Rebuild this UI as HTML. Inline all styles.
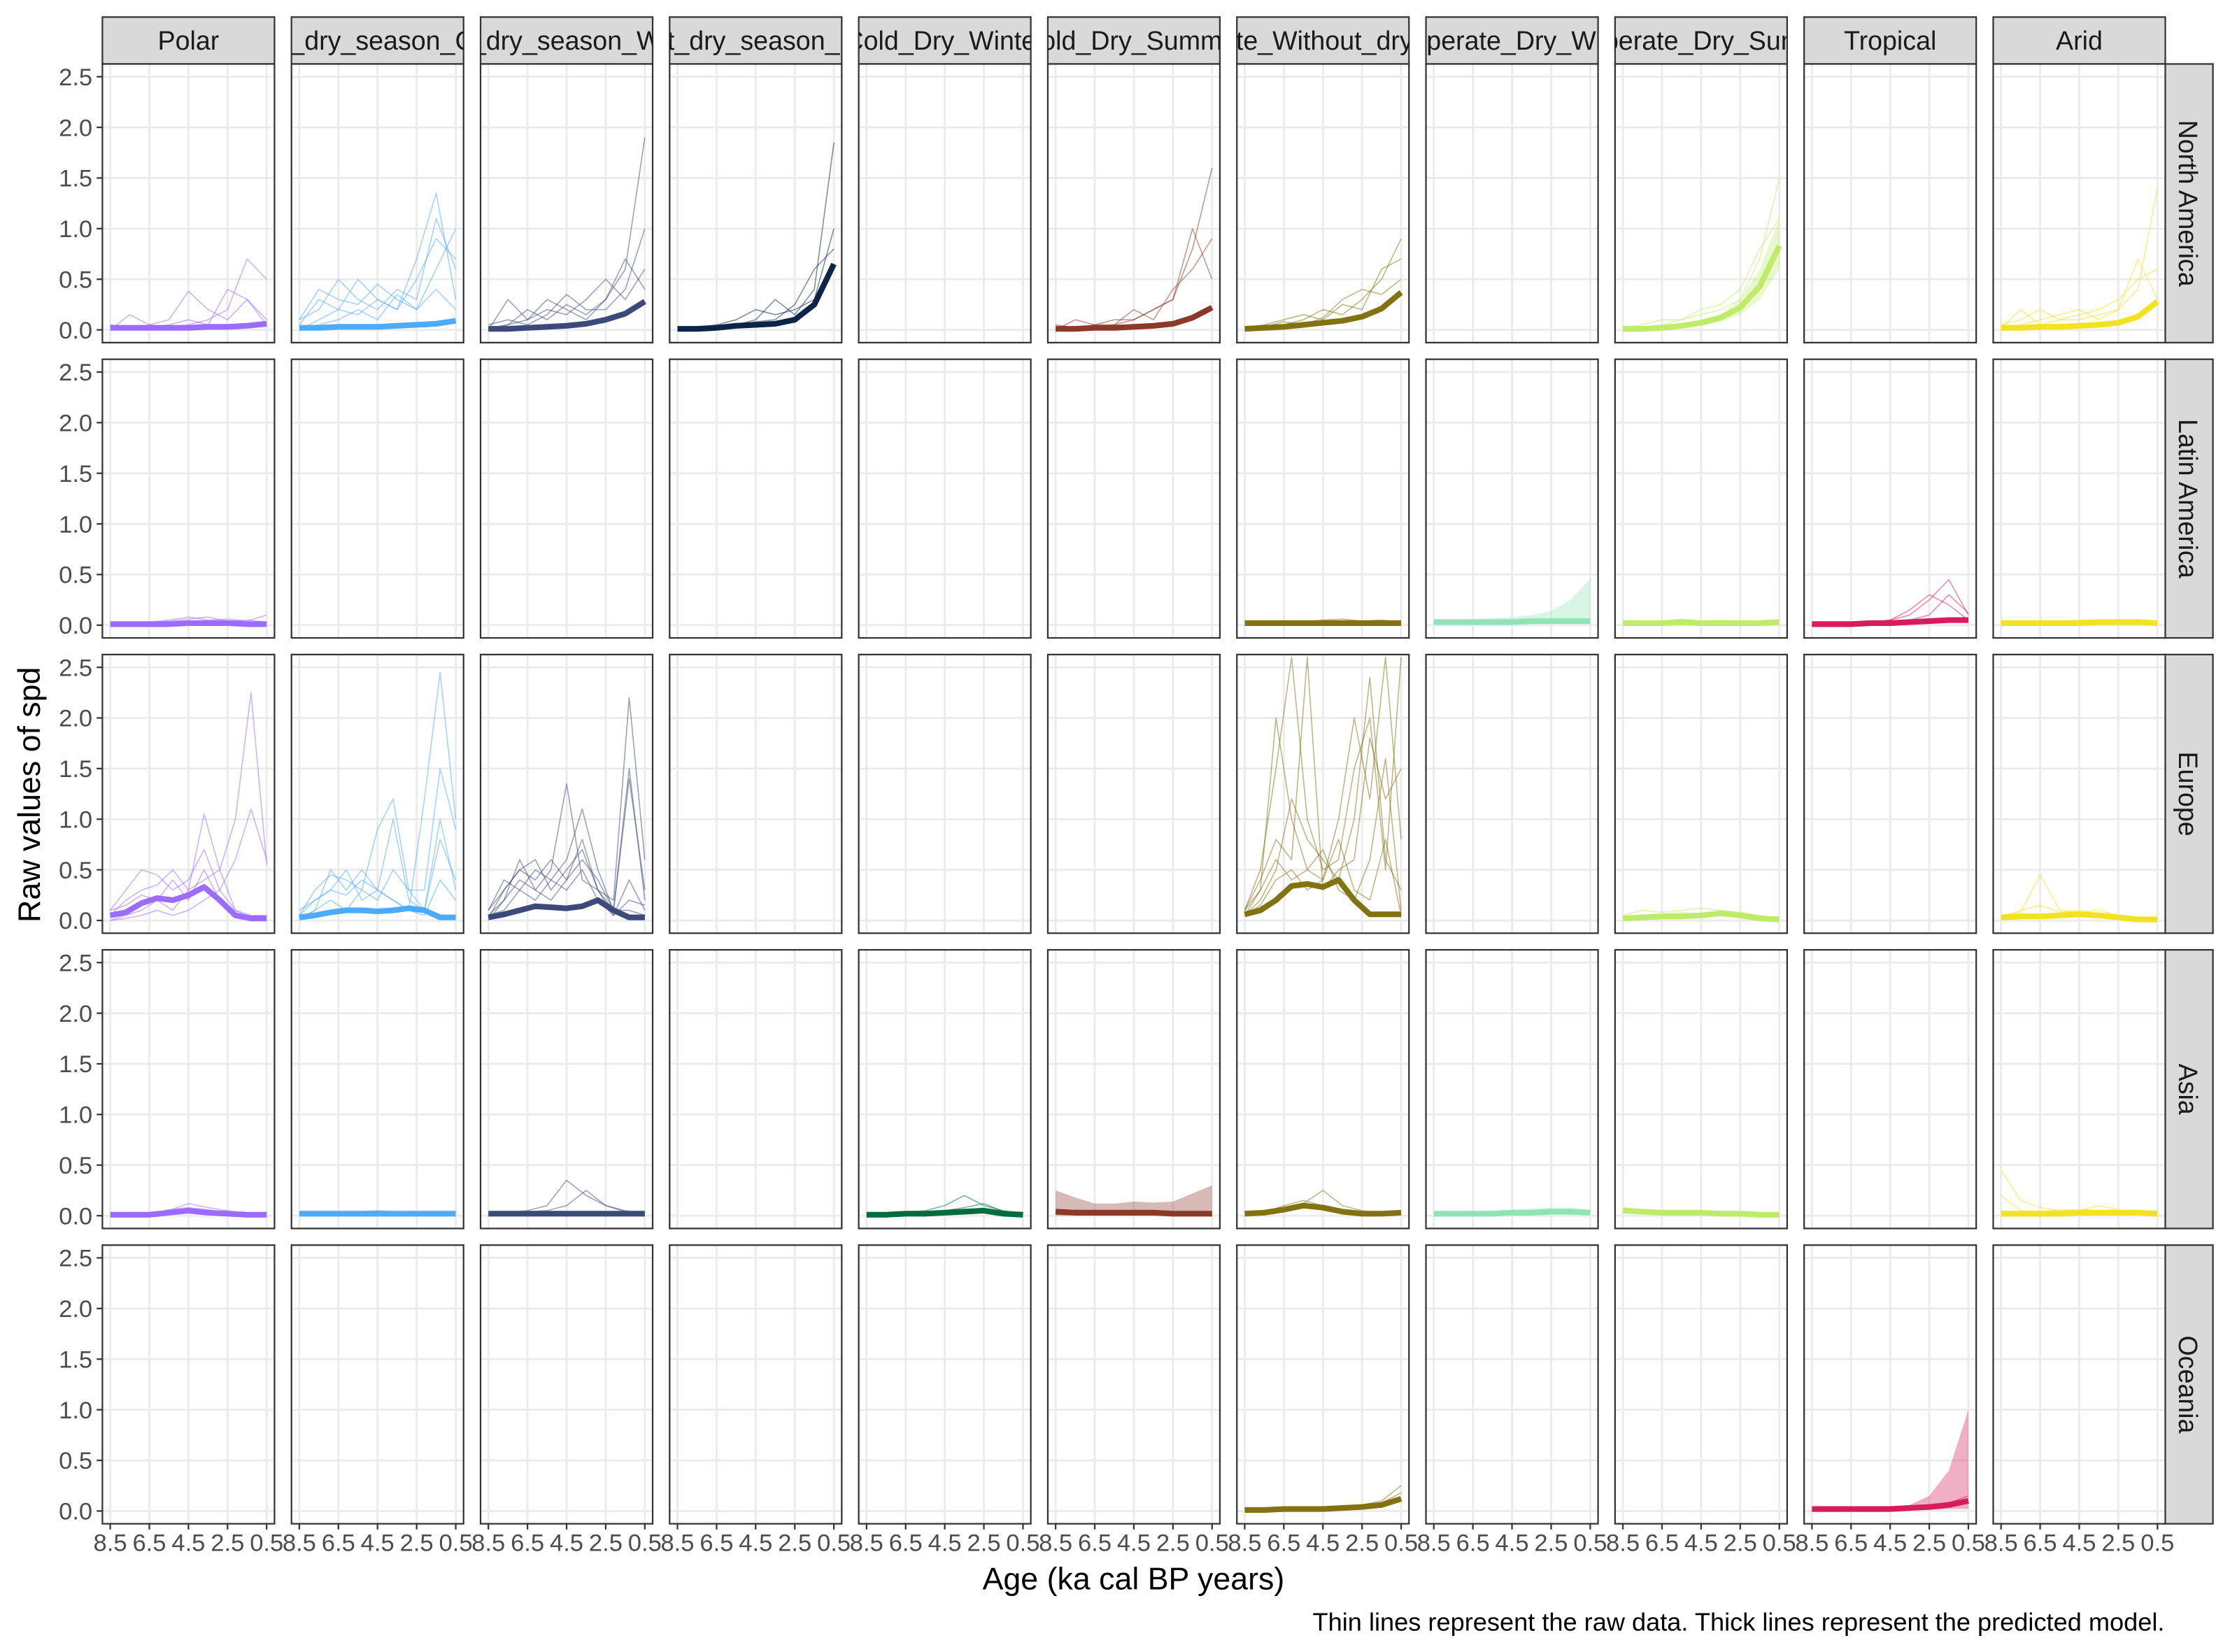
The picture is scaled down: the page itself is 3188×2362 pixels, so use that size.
<!DOCTYPE html>
<html><head><meta charset="utf-8">
<style>
html,body{margin:0;padding:0;background:#fff;}
svg{display:block;font-family:"Liberation Sans",Arial,sans-serif;}
</style></head>
<body>
<svg id="chart" width="3188" height="2362" viewBox="0 0 1568 1162" preserveAspectRatio="none" xmlns="http://www.w3.org/2000/svg">
<rect x="0" y="0" width="1568" height="1162" fill="#fff"/>
<g id="panels"></g>
<text transform="translate(28,559) rotate(-90)" text-anchor="middle" font-size="22" fill="#000">Raw values of spd</text>
<text x="797" y="1118" text-anchor="middle" font-size="22" fill="#000">Age (ka cal BP years)</text>
<text x="1522" y="1147" text-anchor="end" font-size="17.8" fill="#000">Thin lines represent the raw data. Thick lines represent the predicted model.</text>
</svg>
<script>
const climates = ["Polar","Cold_Without_dry_season_Cold_Summer","Cold_Without_dry_season_Warm_Summer","Cold_Without_dry_season_Hot_Summer","Cold_Dry_Winter","Cold_Dry_Summer","Temperate_Without_dry_season","Temperate_Dry_Winter","Temperate_Dry_Summer","Tropical","Arid"];
const regions = ["North America","Latin America","Europe","Asia","Oceania"];
const colors = ["#9b6cff","#4daaff","#3b4a78","#0b2447","#006b3c","#8b3a2a","#837212","#8fe3b5","#bfeb6a","#d81b5c","#f2e21f"];
const yTicks = [0,0.5,1,1.5,2,2.5];
const yTickLabels = ["0.0","0.5","1.0","1.5","2.0","2.5"];
const xTicks = [8.5,6.5,4.5,2.5,0.5];
const xTickLabels = ["8.5","6.5","4.5","2.5","0.5"];
const models = {
 "0,0":[0.02,0.02,0.02,0.02,0.02,0.03,0.03,0.04,0.06],
 "0,1":[0.02,0.02,0.03,0.03,0.03,0.04,0.05,0.06,0.09],
 "0,2":[0.01,0.01,0.02,0.03,0.04,0.06,0.1,0.16,0.28],
 "0,3":[0.01,0.01,0.02,0.04,0.05,0.06,0.1,0.25,0.65],
 "0,5":[0.01,0.01,0.02,0.02,0.03,0.04,0.06,0.12,0.22],
 "0,6":[0.01,0.02,0.03,0.05,0.07,0.09,0.13,0.21,0.37],
 "0,8":[0.01,0.01,0.02,0.04,0.07,0.12,0.22,0.43,0.83],
 "0,10":[0.02,0.02,0.03,0.03,0.04,0.05,0.07,0.13,0.28],
 "1,0":[0.01,0.01,0.01,0.01,0.02,0.02,0.02,0.01,0.01],
 "1,6":[0.02,0.02,0.02,0.02,0.02,0.02,0.02,0.02,0.02],
 "1,7":[0.03,0.03,0.03,0.03,0.03,0.04,0.04,0.04,0.04],
 "1,8":[0.02,0.02,0.02,0.03,0.02,0.02,0.02,0.02,0.03],
 "1,9":[0.01,0.01,0.01,0.02,0.02,0.03,0.04,0.05,0.05],
 "1,10":[0.02,0.02,0.02,0.02,0.02,0.03,0.03,0.03,0.02],
 "2,0":[0.05,0.08,0.17,0.22,0.2,0.25,0.33,0.2,0.05,0.02,0.02],
 "2,1":[0.03,0.05,0.08,0.1,0.1,0.09,0.1,0.12,0.1,0.03,0.03],
 "2,2":[0.03,0.06,0.1,0.14,0.13,0.12,0.14,0.2,0.1,0.03,0.03],
 "2,6":[0.06,0.1,0.2,0.34,0.36,0.33,0.4,0.2,0.06,0.06,0.06],
 "2,8":[0.02,0.03,0.04,0.04,0.05,0.07,0.05,0.02,0.01],
 "2,10":[0.03,0.04,0.04,0.05,0.06,0.05,0.03,0.01,0.01],
 "3,0":[0.01,0.01,0.01,0.03,0.05,0.03,0.02,0.01,0.01],
 "3,1":[0.02,0.02,0.02,0.02,0.02,0.02,0.02,0.02,0.02],
 "3,2":[0.02,0.02,0.02,0.02,0.02,0.02,0.02,0.02,0.02],
 "3,4":[0.01,0.01,0.02,0.02,0.03,0.04,0.05,0.02,0.01],
 "3,5":[0.04,0.03,0.03,0.03,0.03,0.03,0.02,0.02,0.02],
 "3,6":[0.02,0.03,0.06,0.1,0.08,0.04,0.02,0.02,0.03],
 "3,7":[0.02,0.02,0.02,0.02,0.03,0.03,0.04,0.04,0.03],
 "3,8":[0.05,0.04,0.03,0.03,0.03,0.02,0.02,0.01,0.01],
 "3,10":[0.02,0.02,0.02,0.02,0.03,0.03,0.03,0.03,0.02],
 "4,6":[0.01,0.01,0.02,0.02,0.02,0.03,0.04,0.06,0.12],
 "4,9":[0.02,0.02,0.02,0.02,0.02,0.03,0.04,0.06,0.1]
};
const ribbonsUpper = {
 "1,7":[0.05,0.05,0.06,0.07,0.08,0.1,0.14,0.25,0.46],
 "3,5":[0.25,0.18,0.12,0.12,0.14,0.13,0.14,0.22,0.3],
 "3,7":[0.03,0.03,0.04,0.05,0.06,0.07,0.08,0.08,0.06],
 "4,9":[0.03,0.03,0.03,0.03,0.04,0.06,0.15,0.4,1.0],
 "0,8":[0.03,0.03,0.04,0.06,0.1,0.16,0.3,0.6,1.1]
};
const ribbonsLower = {
 "1,7":[0.02,0.02,0.02,0.02,0.02,0.02,0.02,0.02,0.01],
 "3,5":[0.0,0.0,0.0,0.0,0.0,0.0,0.0,0.0,0.0],
 "3,7":[0.01,0.01,0.01,0.01,0.01,0.01,0.01,0.01,0.01],
 "4,9":[0.01,0.01,0.01,0.01,0.01,0.01,0.01,0.02,0.02],
 "0,8":[0.0,0.0,0.01,0.02,0.04,0.08,0.15,0.3,0.6]
};
const raws = {
 "0,0":[[0,0.15,0.05,0.1,0.38,0.2,0.1,0.3,0.1],[0,0,0.05,0.02,0.05,0.1,0.2,0.7,0.5],[0.05,0.02,0.03,0.05,0.1,0.05,0.4,0.3,0.05]],
 "0,1":[[0.1,0.2,0.5,0.3,0.2,0.4,0.3,1.1,0.6],[0.05,0.3,0.2,0.5,0.3,0.2,0.7,1.35,0.3],[0,0.1,0.2,0.15,0.3,0.2,0.5,0.9,0.7],[0.02,0.05,0.1,0.2,0.1,0.35,0.2,0.6,1.0],[0.1,0.4,0.3,0.25,0.45,0.3,0.2,0.4,0.2]],
 "0,2":[[0,0.05,0.1,0.3,0.2,0.1,0.3,0.6,1.9],[0.05,0.1,0.05,0.15,0.35,0.2,0.2,0.4,1.0],[0,0.3,0.1,0.2,0.15,0.3,0.5,0.3,0.6],[0.02,0.05,0.2,0.1,0.25,0.15,0.3,0.7,0.4]],
 "0,3":[[0,0,0.02,0.05,0.1,0.3,0.15,0.4,1.85],[0,0.02,0.05,0.1,0.2,0.15,0.2,0.3,1.0],[0.01,0.02,0.03,0.05,0.08,0.1,0.25,0.6,0.8]],
 "0,5":[[0.05,0.02,0.05,0.1,0.1,0.2,0.3,0.8,1.6],[0,0.1,0.05,0.05,0.2,0.1,0.4,0.6,0.9],[0.02,0.02,0.03,0.05,0.1,0.2,0.3,1.0,0.5]],
 "0,6":[[0,0.02,0.05,0.1,0.2,0.15,0.3,0.5,0.9],[0.02,0.05,0.1,0.15,0.1,0.25,0.2,0.6,0.7],[0.01,0.03,0.08,0.05,0.12,0.3,0.4,0.35,0.5]],
 "0,8":[[0.02,0.05,0.1,0.1,0.15,0.2,0.3,0.7,1.5],[0,0.02,0.05,0.1,0.2,0.25,0.4,0.8,1.1]],
 "0,10":[[0,0.05,0.1,0.15,0.2,0.1,0.2,0.4,1.4],[0.02,0.2,0.05,0.1,0.15,0.2,0.3,0.5,0.6],[0.05,0.1,0.2,0.1,0.1,0.15,0.2,0.7,0.3]],
 "1,0":[[0,0.02,0.03,0.05,0.08,0.05,0.06,0.04,0.1],[0.01,0.01,0.02,0.04,0.06,0.08,0.04,0.05,0.03]],
 "1,6":[[0.02,0.03,0.04,0.03,0.05,0.06,0.04,0.05,0.03]],
 "1,8":[[0.02,0.03,0.04,0.06,0.04,0.05,0.03,0.04,0.05]],
 "1,9":[[0,0.02,0.02,0.03,0.05,0.1,0.25,0.45,0.1],[0.01,0.01,0.02,0.02,0.05,0.15,0.3,0.2,0.05],[0,0.01,0.01,0.02,0.03,0.05,0.1,0.3,0.12]],
 "1,10":[[0.02,0.03,0.04,0.03,0.05,0.04,0.05,0.03,0.04]],
 "2,0":[[0.1,0.3,0.5,0.45,0.3,0.4,0.7,0.3,0.1,0.05,0.05],[0.05,0.2,0.3,0.35,0.5,0.3,1.05,0.5,0.1,0.02,0.02],[0,0.05,0.1,0.2,0.1,0.3,0.4,0.5,1.0,2.25,0.55],[0,0.02,0.05,0.1,0.05,0.1,0.2,0.3,0.6,1.1,0.6],[0.1,0.15,0.25,0.2,0.4,0.2,0.5,0.2,0.05,0.02,0.02]],
 "2,1":[[0,0.1,0.5,0.3,0.5,0.3,0.2,0.1,1.2,2.45,1.0],[0.05,0.3,0.45,0.4,0.3,0.9,1.2,0.3,0.3,1.5,0.9],[0.1,0.2,0.3,0.5,0.2,0.3,1.0,0.2,0.1,0.8,0.4],[0.02,0.1,0.2,0.1,0.3,0.2,0.5,0.3,0.1,1.0,0.3],[0.05,0.2,0.3,0.25,0.4,0.3,0.2,0.1,0.05,0.4,0.2]],
 "2,2":[[0.1,0.3,0.5,0.4,0.6,0.4,0.8,0.3,0.1,1.5,0.2],[0.05,0.2,0.6,0.3,0.5,1.35,0.4,0.3,0.2,2.2,0.6],[0.1,0.4,0.3,0.5,0.4,0.6,1.1,0.5,0.1,1.4,0.3],[0.02,0.3,0.5,0.6,0.3,0.5,0.7,0.3,0.05,0.4,0.1],[0.05,0.1,0.3,0.2,0.4,0.3,0.5,0.2,0.05,0.2,0.15],[0,0.2,0.4,0.3,0.2,0.4,0.6,0.4,0.1,0.1,0.05]],
 "2,6":[[0.1,0.5,1.5,2.6,1.0,0.5,0.6,1.5,2.0,0.5,2.6],[0.05,0.3,2.0,1.0,0.5,0.4,1.0,2.0,1.2,2.6,0.8],[0.1,0.4,0.8,0.6,2.6,0.3,0.5,0.6,1.8,1.2,1.5],[0.05,0.2,0.5,1.2,0.8,0.6,0.4,1.0,2.4,0.6,0.3],[0.1,0.3,0.6,0.4,0.5,0.7,0.3,0.2,0.6,1.6,0.1],[0.05,0.15,0.4,0.5,0.3,0.4,0.8,0.3,0.2,0.8,0.05]],
 "2,8":[[0.05,0.1,0.08,0.1,0.12,0.1,0.08,0.05,0.02],[0.02,0.05,0.06,0.08,0.05,0.1,0.06,0.03,0.01]],
 "2,10":[[0.05,0.08,0.45,0.1,0.08,0.1,0.05,0.03,0.02],[0.02,0.1,0.15,0.08,0.1,0.06,0.04,0.02,0.01]],
 "3,0":[[0.02,0.02,0.03,0.05,0.12,0.08,0.05,0.02,0.01],[0.01,0.01,0.02,0.06,0.08,0.06,0.03,0.02,0.01]],
 "3,1":[[0.02,0.03,0.03,0.04,0.05,0.04,0.03,0.02,0.02]],
 "3,2":[[0.02,0.03,0.05,0.1,0.35,0.2,0.1,0.05,0.02],[0.01,0.02,0.04,0.05,0.1,0.25,0.1,0.04,0.03]],
 "3,4":[[0.01,0.02,0.03,0.05,0.1,0.2,0.1,0.05,0.02],[0.01,0.01,0.02,0.03,0.05,0.08,0.12,0.04,0.02]],
 "3,6":[[0.02,0.04,0.08,0.12,0.25,0.1,0.05,0.02,0.03],[0.01,0.03,0.1,0.15,0.1,0.06,0.04,0.02,0.02]],
 "3,8":[[0.08,0.06,0.05,0.04,0.05,0.03,0.03,0.02,0.01]],
 "3,10":[[0.45,0.15,0.08,0.05,0.06,0.05,0.04,0.03,0.02],[0.2,0.05,0.04,0.06,0.05,0.1,0.06,0.03,0.02]],
 "4,6":[[0.01,0.01,0.02,0.03,0.02,0.04,0.06,0.1,0.25],[0.01,0.02,0.02,0.02,0.03,0.05,0.05,0.08,0.18]],
 "4,9":[[0.01,0.01,0.02,0.02,0.02,0.03,0.05,0.08,0.15]]
};

const NS = "http://www.w3.org/2000/svg";
const root = document.getElementById("panels");
const colX0 = 72, colPitch = 132.95, panelW = 121;
const rowY0 = 45, rowPitch = 207.7, panelH = 196;
const xMin = 8.9, xMax = 0.1, yMin = -0.126, yMax = 2.626;
function mk(tag, attrs, parent){ const e=document.createElementNS(NS,tag); for(const k in attrs) e.setAttribute(k,attrs[k]); (parent||root).appendChild(e); return e; }
function xScale(c, v){ return colX0 + c*colPitch + (xMin - v)/(xMin - xMax)*panelW; }
function yScale(r, v){ const top=rowY0 + r*rowPitch; return top + (yMax - v)/(yMax - yMin)*panelH; }
function ages(n){ const a=[]; for(let i=0;i<n;i++) a.push(8.5 - 8*i/(n-1)); return a; }
function pathFor(r,c,vals){ const a=ages(vals.length); return vals.map((v,i)=>(i?"L":"M")+xScale(c,a[i]).toFixed(2)+","+yScale(r,Math.min(v,yMax+0.3)).toFixed(2)).join(""); }

const defs = mk("defs",{});
climates.forEach((name,c)=>{
  const x = colX0 + c*colPitch;
  const cp = mk("clipPath",{id:"sc"+c},defs);
  mk("rect",{x:x,y:12,width:panelW,height:33},cp);
  const g = mk("g",{});
  
  
  mk("rect",{x:x,y:12,width:panelW,height:33,fill:"#d9d9d9",stroke:"#333","stroke-width":1.1},g);
  const t = mk("text",{x:x+panelW/2,y:35,"text-anchor":"middle","font-size":18.5,fill:"#1a1a1a","clip-path":"url(#sc"+c+")"},g);
  t.textContent = name;
});
regions.forEach((name,r)=>{
  const y = rowY0 + r*rowPitch;
  const g = mk("g",{});
  
  
  mk("rect",{x:1522,y:y,width:34,height:panelH,fill:"#d9d9d9",stroke:"#333","stroke-width":1.1},g);
  const t = mk("text",{transform:"translate(1532,"+(y+panelH/2)+") rotate(90)","text-anchor":"middle","font-size":18.5,fill:"#1a1a1a"},g);
  t.textContent = name;
});
regions.forEach((rn,r)=>{
  climates.forEach((cn,c)=>{
    const x = colX0 + c*colPitch, y = rowY0 + r*rowPitch;
    const key = r+","+c;
    const g = mk("g",{});
    
    
    const cid="pc"+r+"_"+c;
    const cp = mk("clipPath",{id:cid},defs);
    mk("rect",{x:x,y:y,width:panelW,height:panelH},cp);
    mk("rect",{x:x,y:y,width:panelW,height:panelH,fill:"#fff"},g);
    yTicks.forEach(v=>{ mk("line",{x1:x,x2:x+panelW,y1:yScale(r,v),y2:yScale(r,v),stroke:"#ebebeb","stroke-width":1.4},g); });
    xTicks.forEach(v=>{ mk("line",{x1:xScale(c,v),x2:xScale(c,v),y1:y,y2:y+panelH,stroke:"#ebebeb","stroke-width":1.4},g); });
    const dg = mk("g",{"clip-path":"url(#"+cid+")"},g);
    if(ribbonsUpper[key]){
      const up=ribbonsUpper[key], lo=ribbonsLower[key], a=ages(up.length);
      let d=up.map((v,i)=>(i?"L":"M")+xScale(c,a[i])+","+yScale(r,v)).join("");
      for(let i=lo.length-1;i>=0;i--) d+="L"+xScale(c,a[i])+","+yScale(r,lo[i]);
      const rb = mk("path",{d:d+"Z",fill:colors[c],"fill-opacity":0.35,stroke:"none"},dg);
      
      
    }
    (raws[key]||[]).forEach(s=>{
      const p = mk("path",{d:pathFor(r,c,s),fill:"none",stroke:colors[c],"stroke-width":0.8,"stroke-opacity":0.5,"stroke-linejoin":"round"},dg);
      
      
    });
    if(models[key]){
      const p = mk("path",{d:pathFor(r,c,models[key]),fill:"none",stroke:colors[c],"stroke-width":4,"stroke-linejoin":"round"},dg);
      
      
    }
    mk("rect",{x:x,y:y,width:panelW,height:panelH,fill:"none",stroke:"#333","stroke-width":1.1},g);
    if(c===0){
      yTicks.forEach((v,i)=>{
        mk("line",{x1:x-4,x2:x,y1:yScale(r,v),y2:yScale(r,v),stroke:"#333","stroke-width":1.1},g);
        const t=mk("text",{x:x-7,y:yScale(r,v)+6,"text-anchor":"end","font-size":17,fill:"#4d4d4d"},g);
        t.textContent=yTickLabels[i];
      });
    }
    if(r===regions.length-1){
      xTicks.forEach((v,i)=>{
        mk("line",{x1:xScale(c,v),x2:xScale(c,v),y1:y+panelH,y2:y+panelH+4,stroke:"#333","stroke-width":1.1},g);
        const t=mk("text",{x:xScale(c,v),y:y+panelH+19,"text-anchor":"middle","font-size":17,fill:"#4d4d4d"},g);
        t.textContent=xTickLabels[i];
      });
    }
  });
});
</script>
</body></html>
